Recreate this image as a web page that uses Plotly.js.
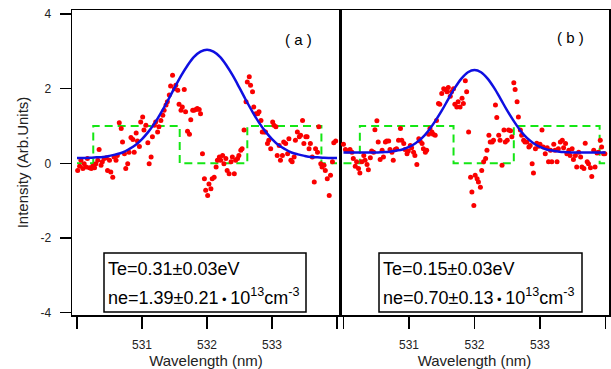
<!DOCTYPE html>
<html>
<head>
<meta charset="utf-8">
<script src="https://cdn.plot.ly/plotly-3.0.1.min.js"></script>
<style>html,body{margin:0;padding:0;background:#fff;}#chart{width:611px;height:369px;}</style>
</head>
<body>
<div id="chart"></div>
<script>
// ---------- Data ----------
const wlA = [530.01,530.04,530.06,530.09,530.11,530.14,530.16,530.19,530.22,530.24,530.27,530.29,530.32,530.34,530.37,530.39,530.42,530.45,530.47,530.50,530.52,530.55,530.57,530.60,530.62,
530.65,530.68,530.70,530.73,530.75,530.78,530.80,530.83,530.86,530.88,530.91,530.93,530.96,530.98,531.01,531.03,531.06,531.09,531.11,531.14,531.16,531.19,531.21,531.24,531.26,
531.29,531.32,531.34,531.37,531.39,531.42,531.44,531.47,531.50,531.52,531.55,531.57,531.60,531.62,531.65,531.67,531.70,531.73,531.75,531.78,531.80,531.83,531.85,531.88,531.90,
531.93,531.96,531.98,532.01,532.03,532.06,532.08,532.11,532.14,532.16,532.19,532.21,532.24,532.26,532.29,532.31,532.34,532.37,532.39,532.42,532.44,532.47,532.49,532.52,532.54,
532.57,532.60,532.62,532.65,532.67,532.70,532.72,532.75,532.78,532.80,532.83,532.85,532.88,532.90,532.93,532.95,532.98,533.01,533.03,533.06,533.08,533.11,533.13,533.16,533.18,
533.21,533.24,533.26,533.29,533.31,533.34,533.36,533.39,533.42,533.44,533.47,533.49,533.52,533.54,533.57,533.59,533.62,533.65,533.67,533.70,533.72,533.75,533.77,533.80,533.82,
533.85,533.88,533.90,533.93,533.95,533.98];
const intA = [-0.19,-0.08,0.08,-0.14,-0.01,-0.10,0.13,-0.12,-0.14,-0.08,-0.12,-0.01,0.08,0.37,-0.05,0.04,0.13,0.15,-0.19,0.08,-0.23,-0.37,0.17,0.08,0.21,
1.09,0.93,0.57,0.26,-0.14,-0.01,0.30,0.69,0.64,0.30,0.81,0.60,0.45,1.11,1.24,0.89,1.02,0.55,-0.01,0.17,0.71,1.02,1.11,0.84,0.98,
1.15,1.29,1.42,1.56,1.65,1.83,2.07,2.36,2.00,2.09,1.96,1.58,1.42,1.51,1.98,1.38,0.86,0.78,1.17,1.42,1.42,1.44,1.47,1.44,1.33,
0.26,-0.41,-0.72,-0.86,-0.55,-0.68,-0.41,-0.37,-0.10,0.08,0.17,0.08,0.21,-0.01,0.13,-0.19,-0.28,0.04,0.17,-0.28,0.08,0.13,0.21,0.35,0.39,
0.89,1.65,2.18,2.32,2.09,1.92,1.51,1.33,1.33,1.38,1.15,0.84,0.84,0.84,0.53,0.62,0.39,1.11,1.02,0.98,0.21,0.48,0.08,0.21,0.57,
0.53,0.26,0.66,0.08,0.04,0.17,0.62,0.84,0.71,0.75,1.15,0.53,0.71,0.71,0.39,0.53,0.17,-0.50,0.39,0.30,0.98,-0.01,-0.10,-0.05,-0.19,
-0.41,-0.86,-0.32,0.04,0.55,0.60];

const wlB = [530.00,530.03,530.05,530.08,530.10,530.13,530.15,530.18,530.20,530.23,530.25,530.28,530.31,530.33,530.36,530.38,530.41,530.43,530.46,530.48,530.51,530.53,530.56,530.59,530.61,
530.64,530.66,530.69,530.71,530.74,530.76,530.79,530.81,530.84,530.87,530.89,530.92,530.94,530.97,530.99,531.02,531.04,531.07,531.09,531.12,531.15,531.17,531.20,531.22,531.25,
531.27,531.30,531.32,531.35,531.37,531.40,531.42,531.45,531.47,531.50,531.53,531.55,531.58,531.60,531.63,531.65,531.68,531.70,531.73,531.75,531.78,531.81,531.83,531.86,531.88,
531.91,531.94,531.96,531.99,532.01,532.04,532.06,532.09,532.11,532.14,532.17,532.19,532.22,532.24,532.27,532.29,532.32,532.34,532.37,532.39,532.42,532.45,532.47,532.50,532.52,
532.55,532.57,532.60,532.62,532.65,532.67,532.70,532.72,532.75,532.77,532.80,532.83,532.85,532.88,532.90,532.93,532.95,532.98,533.00,533.03,533.05,533.08,533.11,533.13,533.16,
533.18,533.21,533.23,533.26,533.28,533.31,533.34,533.36,533.39,533.41,533.44,533.46,533.49,533.51,533.54,533.56,533.59,533.62,533.64,533.67,533.69,533.72,533.74,533.77,533.79,
533.82,533.84,533.87,533.89,533.92,533.94,533.97,533.99];
const intB = [0.51,0.37,0.33,0.33,0.37,0.30,0.13,-0.08,0.04,-0.14,-0.26,0.04,0.21,0.08,-0.03,-0.17,0.15,0.33,0.30,0.90,1.14,0.57,0.10,0.35,0.17,
0.57,0.60,0.60,0.37,0.30,0.08,0.37,0.39,0.62,0.93,0.62,0.53,0.37,0.26,0.33,0.48,0.42,0.30,0.21,-0.03,0.66,0.60,0.53,0.39,0.30,
0.35,0.78,0.93,0.84,0.78,0.75,1.15,1.60,1.58,1.87,2.00,1.98,1.92,2.03,1.80,1.92,2.00,1.58,1.51,1.65,1.51,1.74,1.60,2.21,1.92,
0.84,-0.37,-0.77,-1.13,-0.32,-0.41,-0.50,-0.64,-0.19,0.04,0.13,0.35,0.75,0.57,0.57,0.62,1.56,1.23,0.75,0.62,-0.05,0.89,0.57,0.62,0.89,
0.87,0.71,2.16,1.98,1.65,1.24,0.89,0.75,0.62,0.57,0.57,0.44,0.48,-0.01,-0.26,0.39,0.54,0.46,0.51,0.89,0.44,0.26,0.42,0.04,0.35,
0.04,0.51,0.35,0.04,0.39,0.57,0.62,0.42,0.53,0.26,0.35,0.21,0.39,0.10,0.21,-0.10,0.30,0.17,-0.10,-0.14,0.54,0.04,-0.01,-0.12,-0.35,
0.35,-0.10,0.28,0.30,0.62,0.44,0.26,0.26];

// fitted spectra
const wlFit = [530.0,530.1,530.2,530.3,530.4,530.5,530.6,530.7,530.8,530.9,531.0,531.1,531.2,531.3,531.4,531.5,531.6,531.7,531.8,531.9,532.0,
532.1,532.2,532.3,532.4,532.5,532.6,532.7,532.8,532.9,533.0,533.1,533.2,533.3,533.4,533.5,533.6,533.7,533.8,533.9,534.0];
const fitA = [0.14,0.145,0.15,0.16,0.17,0.20,0.24,0.29,0.38,0.49,0.65,0.85,1.09,1.38,1.69,2.02,2.34,2.62,2.85,2.99,3.04,
2.99,2.85,2.62,2.34,2.02,1.69,1.38,1.09,0.85,0.65,0.49,0.38,0.29,0.24,0.20,0.17,0.16,0.15,0.145,0.14];
const fitB = [0.29,0.29,0.29,0.29,0.29,0.29,0.30,0.31,0.34,0.37,0.44,0.54,0.68,0.88,1.13,1.41,1.72,2.02,2.27,2.44,2.50,
2.44,2.27,2.02,1.72,1.41,1.13,0.88,0.68,0.54,0.44,0.37,0.34,0.31,0.30,0.29,0.29,0.29,0.29,0.29,0.29];

// instrument (notch) functions
const wlInstA = [530.0,530.25,530.25,531.58,531.58,532.62,532.62,533.76,533.76,534.0];
const instA   = [0,0,1,1,0,0,1,1,0,0];
const wlInstB = [530.0,530.25,530.25,531.68,531.68,532.60,532.60,533.91,533.91,534.0];
const instB   = [0,0,1,1,0,0,1,1,0,0];

const xTickVals = [531,532,533];
const xTickText = ['531','532','533'];
const yTickVals = [-4,-2,0,2,4];
const yTickText = ['-4','-2','0','2','4'];

const panelLabels = ['( a )','( b )'];
const teText = ['Te=0.31±0.03eV','Te=0.15±0.03eV'];
const DOT = '<span style="font-size:13px"> • </span>';
const neText = ['ne=1.39±0.21' + DOT + '10<sup>13</sup>cm<sup>-3</sup>','ne=0.70±0.13' + DOT + '10<sup>13</sup>cm<sup>-3</sup>'];

// ---------- Styles ----------
const FONT = 'Liberation Sans, Arial, Noto Sans CJK JP, sans-serif';
const GREEN = 'rgb(20,230,20)';
const RED = 'rgb(250,0,0)';
const BLUE = 'rgb(15,15,225)';

function traces(wl, val, wlI, inst, fit, xa, ya){
  return [
    {x: wlI, y: inst, xaxis: xa, yaxis: ya, mode: 'lines', line: {color: GREEN, width: 2, dash: '8px,5px'}, hoverinfo:'skip'},
    {x: wl, y: val, xaxis: xa, yaxis: ya, mode: 'markers', marker: {color: RED, size: 5}, hoverinfo:'skip'},
    {x: wlFit, y: fit, xaxis: xa, yaxis: ya, mode: 'lines', line: {color: BLUE, width: 2.5, shape: 'spline'}, hoverinfo:'skip'}
  ];
}

const data = [].concat(
  traces(wlA, intA, wlInstA, instA, fitA, 'x', 'y'),
  traces(wlB, intB, wlInstB, instB, fitB, 'x2', 'y2')
);

const split = (340-72)/537;
const xCommon = {
  tickmode: 'array', tickvals: xTickVals, ticktext: xTickText, ticks: 'outside', ticklen: 12, tickwidth: 1.5, tickcolor: '#000',
  minor: {tick0: 530, dtick: 1, ticks: 'outside', ticklen: 12, tickwidth: 1.5, tickcolor: '#000', showgrid: false},
  showline: true, linewidth: 1.5, linecolor: '#000', mirror: true, showgrid: false, zeroline: false,
  tickfont: {family: FONT, size: 12, color: '#222'}, ticklabelstandoff: 6,
  title: {text: 'Wavelength (nm)', font: {family: FONT, size: 15, color: '#222'}, standoff: 1}
};

const layout = {
  width: 611, height: 369,
  margin: {l: 72, r: 2, t: 10, b: 54},
  paper_bgcolor: '#fff', plot_bgcolor: '#fff',
  showlegend: false,
  font: {family: FONT, color: '#222'},
  xaxis: Object.assign({}, xCommon, {domain: [0, split], range: [529.923, 534.046], anchor: 'y'}),
  xaxis2: Object.assign({}, xCommon, {domain: [split, 1], range: [529.947, 534.053], anchor: 'y2'}),
  yaxis: {
    range: [-4.062, 4.107], tickvals: yTickVals, ticktext: yTickText, ticks: 'outside', ticklen: 11, tickwidth: 1.5, tickcolor: '#000',
    showline: true, linewidth: 1.5, linecolor: '#000', mirror: true, showgrid: false, zeroline: false,
    tickfont: {family: FONT, size: 12, color: '#222'}, ticklabelstandoff: 6, anchor: 'x',
    title: {text: 'Intensity (Arb.Units)', font: {family: FONT, size: 15, color: '#222'}, standoff: 8}
  },
  yaxis2: {
    matches: 'y', range: [-4.062, 4.107], anchor: 'x2', showticklabels: false, ticks: '',
    showline: true, linewidth: 1.5, linecolor: '#000', mirror: true, showgrid: false, zeroline: false
  },
  shapes: [
    {type: 'rect', xref: 'paper', yref: 'paper', x0: (104-72)/537, x1: (306-72)/537, y0: (315-312)/305, y1: (315-253)/305, line: {color: '#000', width: 1.5}, fillcolor: '#fff'},
    {type: 'rect', xref: 'paper', yref: 'paper', x0: (379-72)/537, x1: (582-72)/537, y0: (315-312)/305, y1: (315-253)/305, line: {color: '#000', width: 1.5}, fillcolor: '#fff'}
  ],
  annotations: [
    {text: panelLabels[0], xref: 'paper', yref: 'paper', x: (298-72)/537, y: (315-39)/305, showarrow: false, font: {family: FONT, size: 15, color: '#000'}, xanchor: 'center', yanchor: 'middle'},
    {text: panelLabels[1], xref: 'paper', yref: 'paper', x: (570-72)/537, y: (315-38)/305, showarrow: false, font: {family: FONT, size: 15, color: '#000'}, xanchor: 'center', yanchor: 'middle'},
    {text: teText[0], xref: 'paper', yref: 'paper', x: (106-72)/537, y: (315-269)/305, showarrow: false, font: {family: FONT, size: 18, color: '#000'}, xanchor: 'left', yanchor: 'middle'},
    {text: neText[0], xref: 'paper', yref: 'paper', x: (106-72)/537, y: (315-296)/305, showarrow: false, font: {family: FONT, size: 18, color: '#000'}, xanchor: 'left', yanchor: 'middle'},
    {text: teText[1], xref: 'paper', yref: 'paper', x: (381-72)/537, y: (315-269)/305, showarrow: false, font: {family: FONT, size: 18, color: '#000'}, xanchor: 'left', yanchor: 'middle'},
    {text: neText[1], xref: 'paper', yref: 'paper', x: (381-72)/537, y: (315-296)/305, showarrow: false, font: {family: FONT, size: 18, color: '#000'}, xanchor: 'left', yanchor: 'middle'}
  ]
};

Plotly.newPlot('chart', data, layout, {staticPlot: true, displayModeBar: false});
</script>
</body>
</html>
